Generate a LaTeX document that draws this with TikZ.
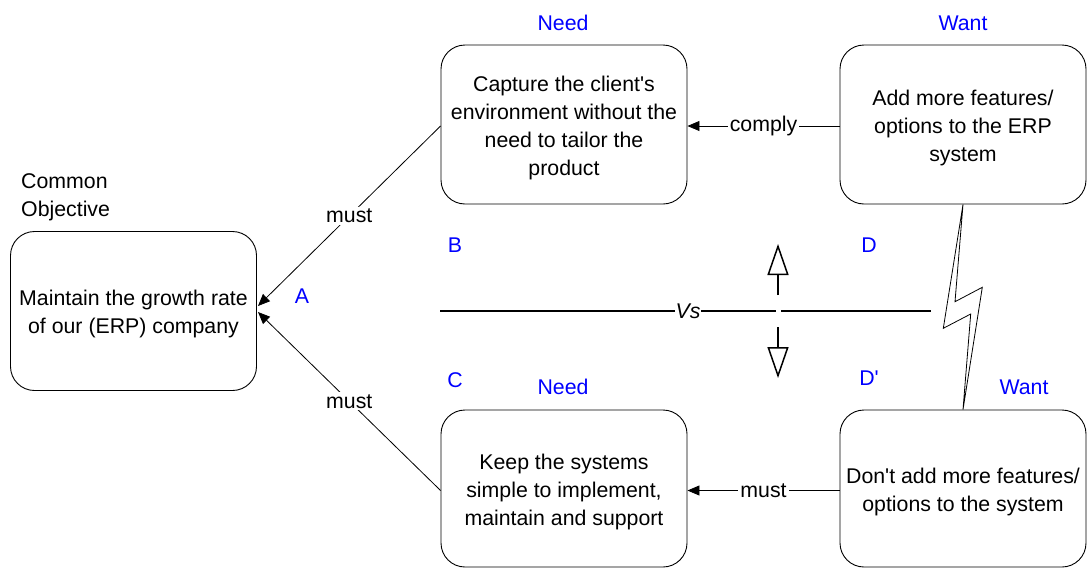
\documentclass[tikz,border=0pt]{standalone}
\usepackage{fontspec}
\setmainfont{Liberation Sans}[Ligatures=TeXOff]
\usetikzlibrary{arrows.meta}
\newcommand\diafs{\fontsize{21.3}{28}\selectfont}
\newcommand\toprule{\rule{0pt}{21.5pt}}
\begin{document}
\begin{tikzpicture}[x=1pt,y=-1pt,
  box/.style={draw, rounded corners=24pt, line width=0.9pt, minimum width=246pt, minimum height=159pt, align=center, font=\diafs, inner sep=0pt},
  lbl/.style={text=blue, font=\diafs, inner sep=1pt},
  lab/.style={fill=white, font=\diafs, inner sep=2pt},
  conn/.style={draw, line width=0.8pt, -{Triangle[length=12pt,width=10pt]}},
  vsline/.style={line width=2pt},
  hollow/.style={line width=1.5pt, -{Triangle[open, length=31pt, width=21pt]}}
]
\useasboundingbox (0,0) rectangle (1089,568);

\node[box] (A) at (133.5,311) {\toprule Maintain the growth rate\\of our (ERP) company};
\node[box] (B) at (564,124.5) {\toprule Capture the client's\\environment without the\\need to tailor the\\product};
\node[box] (D) at (963,124.5) {\toprule Add more features/\\options to the ERP\\system};
\node[box, minimum height=157pt] (C) at (564,488.5) {\toprule Keep the systems\\simple to implement,\\maintain and support};
\node[box, minimum height=157pt] (Dp) at (963,488.5) {\toprule Don't add more features/\\options to the system};

\node[font=\diafs, anchor=west, align=left, inner sep=0pt] (co) at (21,197) {Common\\Objective};

\node[lbl] (needB) at (563,23) {Need};
\node[lbl] (wantD) at (963,23) {Want};
\node[lbl] (needC) at (563,387) {Need};
\node[lbl] (wantDp) at (1024,387) {Want};
\node[lbl] (lA) at (302,296) {A};
\node[lbl] (lB) at (455,245) {B};
\node[lbl] (lC) at (455,380) {C};
\node[lbl] (lD) at (869,245) {D};
\node[lbl] (lDp) at (869,378) {D'};

\coordinate (a1) at (258,306);
\coordinate (a2) at (258,312);
\coordinate (bw) at ([yshift=-1.5pt]B.west);
\coordinate (be) at ([yshift=-1.5pt]B.east);
\coordinate (dw) at ([yshift=-1.5pt]D.west);
\coordinate (cw) at ([yshift=-2pt]C.west);
\coordinate (ce) at ([yshift=-2pt]C.east);
\coordinate (dpw) at ([yshift=-2pt]Dp.west);
\draw[conn] (bw) -- node[lab]{must} (a1);
\draw[conn] (cw) -- node[lab]{must} (a2);
\draw[conn] (dw) -- node[lab]{comply} (be);
\draw[conn] (dpw) -- node[lab]{must} (ce);

\coordinate (v1) at (440,311);
\coordinate (v2) at (776,311);
\coordinate (v3) at (781,311);
\coordinate (v4) at (931,311);
\draw[vsline] (v1) -- node[pos=0.738, fill=white, font=\diafs\itshape, inner sep=1pt]{Vs} (v2);
\draw[vsline] (v3) -- (v4);

\coordinate (u1) at (778,295);
\coordinate (u2) at (778,244);
\coordinate (w1) at (778,327);
\coordinate (w2) at (778,378);
\draw[hollow] (u1) -- (u2);
\draw[hollow] (w1) -- (w2);

\draw[line width=0.8pt, line join=miter] (D.south) -- (955,301.7) -- (982.3,287.3) -- (Dp.north) -- (970.7,314) -- (943.3,328.3) -- cycle;
\end{tikzpicture}
\end{document}
